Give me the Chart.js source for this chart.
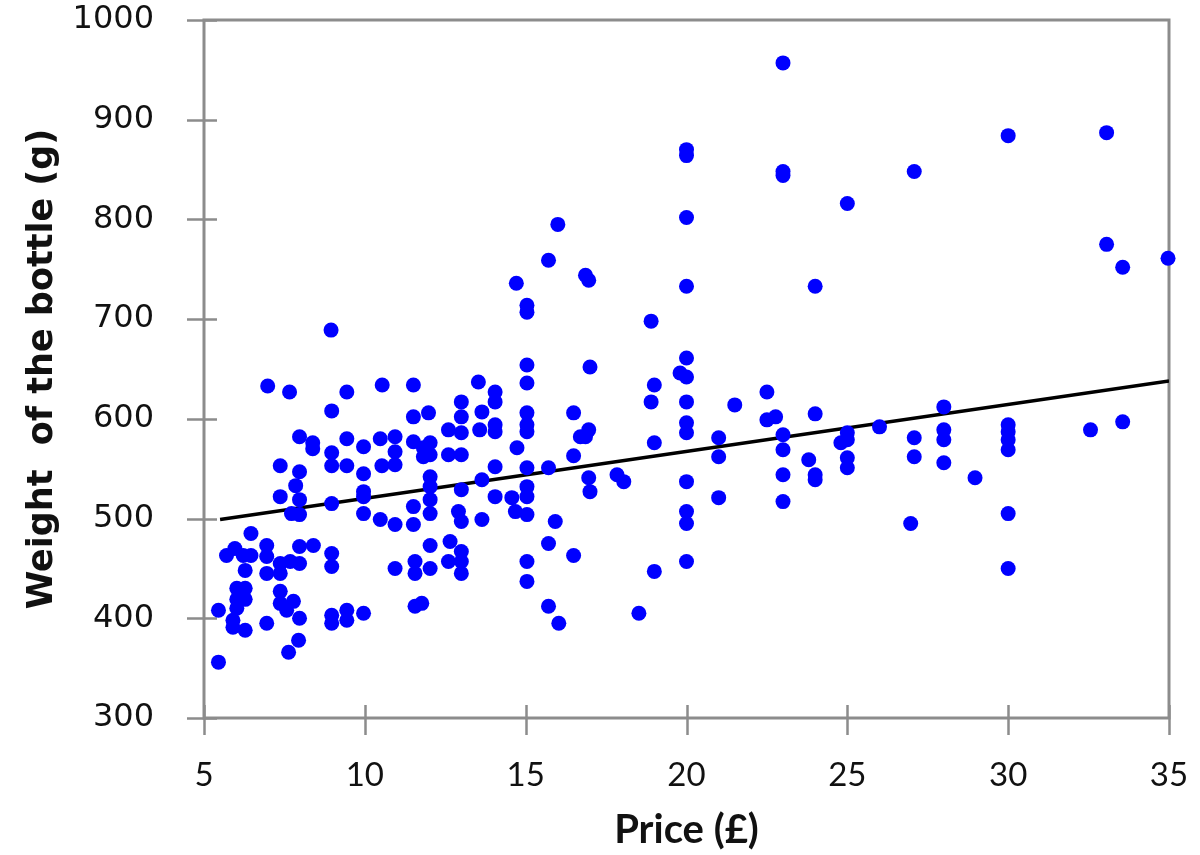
<!DOCTYPE html>
<html>
<head>
<meta charset="utf-8">
<script src="https://cdn.jsdelivr.net/npm/chart.js@4.4.0/dist/chart.umd.min.js"></script>
<style>
  html, body { margin: 0; background: #fff; }
  #wrap { width: 1200px; height: 855px; }
</style>
</head>
<body>
<div id="wrap"><canvas id="chart"></canvas></div>
<script>
// price (£) and bottle weight (g)
const prices = [
  5.45, 5.45, 5.7, 5.9, 5.9, 5.96, 6.02, 6.02, 6.02, 6.22,
  6.28, 6.28, 6.28, 6.28, 6.46, 6.46, 6.95, 6.95, 6.95, 6.95, 6.98,
  7.37, 7.37, 7.37, 7.37, 7.37, 7.37, 7.57, 7.63, 7.66, 7.68, 7.72, 7.78, 7.85, 7.94,
  7.97, 7.97, 7.97, 7.97, 7.97, 7.97, 7.97, 8.38, 8.38, 8.4,
  8.95, 8.97, 8.97, 8.97, 8.97, 8.97, 8.97, 8.97, 8.97,
  9.44, 9.44, 9.44, 9.44, 9.44, 9.96, 9.96, 9.96, 9.96, 9.96, 9.96,
  10.48, 10.48, 10.53, 10.54, 10.94, 10.94, 10.94, 10.94, 10.94,
  11.51, 11.51, 11.51, 11.51, 11.51, 11.56, 11.56, 11.56, 11.77, 11.82, 11.82, 11.98,
  12.03, 12.03, 12.03, 12.03, 12.03, 12.03, 12.03, 12.03, 12.6, 12.6, 12.6, 12.65, 12.91,
  13.0, 13.0, 13.0, 13.0, 13.0, 13.0, 13.0, 13.0, 13.0, 13.53, 13.57, 13.64, 13.64, 13.64,
  14.05, 14.05, 14.05, 14.05, 14.05, 14.05, 14.57, 14.68, 14.71, 14.73,
  15.04, 15.04, 15.04, 15.04, 15.04, 15.04, 15.04, 15.04, 15.04, 15.04, 15.04, 15.04, 15.04,
  15.71, 15.71, 15.71, 15.71, 15.92, 16.0, 16.03, 16.49, 16.49, 16.49, 16.7,
  16.86, 16.86, 16.96, 16.96, 16.96, 17.0, 17.0, 17.84, 18.05, 18.52,
  18.9, 18.9, 19.0, 19.0, 19.0, 19.8,
  20.0, 20.0, 20.0, 20.0, 20.0, 20.0, 20.0, 20.0, 20.0, 20.0, 20.0, 20.0, 20.0,
  21.0, 21.0, 21.0, 21.5, 22.5, 22.5, 22.77,
  23.0, 23.0, 23.0, 23.0, 23.0, 23.0, 23.0, 23.8, 24.0, 24.0, 24.0, 24.0, 24.8,
  25.0, 25.0, 25.0, 25.0, 25.0, 26.0, 27.08, 27.08, 27.08, 26.97,
  28.0, 28.0, 28.0, 28.0, 28.97,
  30.0, 30.0, 30.0, 30.0, 30.0, 30.0, 30.0, 32.56, 33.06, 33.06, 33.56, 33.56, 34.97
];
const weights = [
  408, 356, 463, 398, 391, 470, 430, 419, 410, 463,
  430, 419, 448, 388, 485, 463, 473, 462, 445, 395, 633,
  553, 522, 455, 445, 427, 415, 408, 366, 627, 457, 505, 417, 533, 378,
  582, 547, 519, 504, 455, 472, 400, 576, 570, 473,
  689, 608, 566, 553, 515, 465, 452, 403, 395,
  627, 580, 553, 408, 398, 572, 545, 527, 522, 505, 405,
  580, 499, 553, 634, 582, 567, 554, 494, 450,
  634, 602, 577, 512, 494, 457, 445, 412, 415, 571, 562, 606,
  576, 564, 542, 532, 519, 505, 473, 450, 589, 564, 457, 477, 507,
  617, 602, 586, 564, 529, 497, 467, 457, 445, 637, 589, 607, 539, 499,
  627, 617, 594, 587, 552, 522, 521, 507, 736, 571,
  714, 707, 654, 636, 606, 594, 587, 551, 532, 522, 504, 457, 437,
  759, 551, 475, 412, 497, 795, 395, 606, 563, 463, 582,
  744, 582, 739, 589, 541, 652, 527, 544, 537, 405,
  698, 617, 634, 576, 447, 646,
  870, 864, 802, 733, 661, 642, 617, 596, 586, 537, 507, 495, 457,
  581, 562, 521, 614, 627, 599, 602,
  957, 848, 844, 584, 569, 544, 517, 559, 733, 605, 544, 539, 576,
  816, 586, 579, 561, 551, 592, 848, 581, 562, 495,
  612, 589, 579, 556, 541,
  884, 594, 587, 579, 569, 505, 450, 589, 887, 775, 752, 597, 761
];

// fitted line end points
const trendPrices = [5.5, 35];
const trendWeights = [499, 638];

const xTicks = [5, 10, 15, 20, 25, 30, 35];
const yTicks = [300, 400, 500, 600, 700, 800, 900, 1000];

const axisGray = '#8c8c8c';

// plot frame plus tick marks that cross the axis line
const frameTicks = {
  id: 'frameTicks',
  beforeDatasetsDraw(chart) {
    const { ctx, chartArea: a, scales: { x, y } } = chart;
    ctx.save();
    ctx.strokeStyle = axisGray;
    ctx.lineWidth = 3;
    ctx.strokeRect(a.left, a.top, a.right - a.left, a.bottom - a.top);
    ctx.lineWidth = 2.5;
    ctx.beginPath();
    y.ticks.forEach(t => {
      const py = Math.round(y.getPixelForValue(t.value)) + 0.5;
      ctx.moveTo(a.left - 17, py);
      ctx.lineTo(a.left + 13, py);
    });
    x.ticks.forEach(t => {
      const px = Math.round(x.getPixelForValue(t.value)) + 0.5;
      ctx.moveTo(px, a.bottom - 13);
      ctx.lineTo(px, a.bottom + 17);
    });
    ctx.stroke();
    ctx.restore();
  }
};

new Chart(document.getElementById('chart'), {
  type: 'scatter',
  data: {
    datasets: [
      {
        data: prices.map((p, i) => ({ x: p, y: weights[i] })),
        backgroundColor: '#0000ff',
        borderWidth: 0,
        pointRadius: 7.5,
        pointHoverRadius: 7.5,
        clip: false
      },
      {
        type: 'line',
        data: trendPrices.map((p, i) => ({ x: p, y: trendWeights[i] })),
        borderColor: '#000',
        borderWidth: 3.5,
        pointRadius: 0,
        fill: false
      }
    ]
  },
  plugins: [frameTicks],
  options: {
    responsive: true,
    maintainAspectRatio: false,
    animation: false,
    layout: { padding: { top: 20, right: 31, left: 0, bottom: 0 } },
    plugins: {
      legend: { display: false },
      tooltip: { enabled: false }
    },
    scales: {
      x: {
        type: 'linear',
        min: 5,
        max: 35,
        afterBuildTicks: s => { s.ticks = xTicks.map(v => ({ value: v })); },
        afterFit: s => {
          s.height = 137;
          s.paddingLeft = 0;
          s.paddingRight = 0;
        },
        grid: { display: false },
        border: { display: false },
        ticks: {
          padding: 30,
          color: '#111',
          callback: v => String(v),
          font: { family: 'Lato', size: 33 }
        },
        title: {
          display: true,
          text: 'Price (£)',
          color: '#111',
          padding: { top: 0, bottom: 1 },
          font: { family: 'Lato', size: 40, weight: 'bold' }
        }
      },
      y: {
        min: 300,
        max: 1000,
        afterBuildTicks: s => { s.ticks = yTicks.map(v => ({ value: v })); },
        afterFit: s => {
          s.width = 204;
          s.paddingTop = 0;
          s.paddingBottom = 0;
        },
        grid: { display: false },
        border: { display: false },
        ticks: {
          padding: 42,
          color: '#111',
          callback: v => String(v),
          font: { family: 'DejaVu Sans', size: 32 }
        },
        title: {
          display: true,
          text: 'Weight  of the bottle (g)',
          color: '#111',
          padding: { top: 22, bottom: 0 },
          font: { family: 'DejaVu Sans', size: 35, weight: 'bold' }
        }
      }
    }
  }
});
</script>
</body>
</html>
